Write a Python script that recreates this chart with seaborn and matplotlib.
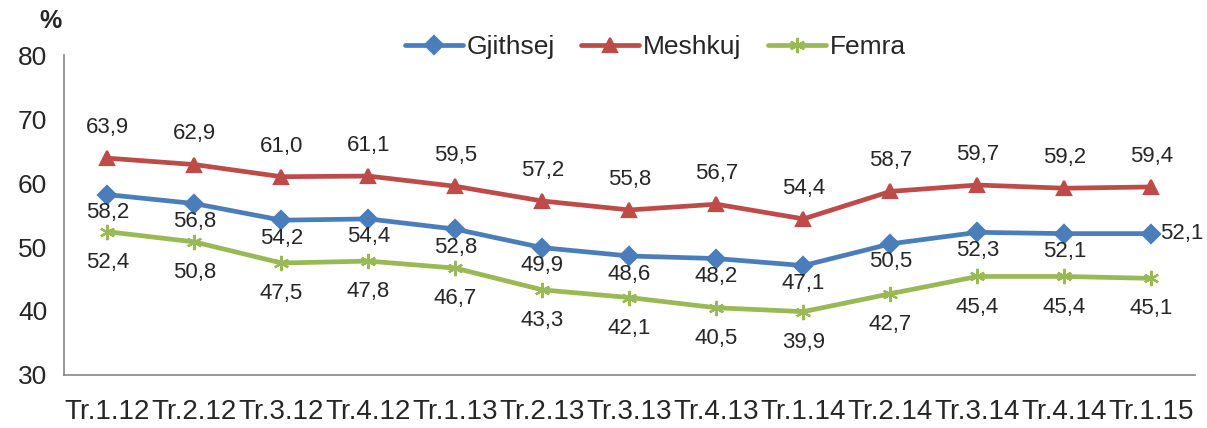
import pandas as pd
import numpy as np
import matplotlib
matplotlib.use("Agg")
import matplotlib.pyplot as plt
import seaborn as sns

# Te dhenat
quarters = ["Tr.1.12", "Tr.2.12", "Tr.3.12", "Tr.4.12", "Tr.1.13", "Tr.2.13", "Tr.3.13",
            "Tr.4.13", "Tr.1.14", "Tr.2.14", "Tr.3.14", "Tr.4.14", "Tr.1.15"]
gjithsej = [58.2, 56.8, 54.2, 54.4, 52.8, 49.9, 48.6, 48.2, 47.1, 50.5, 52.3, 52.1, 52.1]
meshkuj = [63.9, 62.9, 61.0, 61.1, 59.5, 57.2, 55.8, 56.7, 54.4, 58.7, 59.7, 59.2, 59.4]
femra = [52.4, 50.8, 47.5, 47.8, 46.7, 43.3, 42.1, 40.5, 39.9, 42.7, 45.4, 45.4, 45.1]
series_names = ["Gjithsej", "Meshkuj", "Femra"]

colors = {"Gjithsej": "#4A7EBB", "Meshkuj": "#BE4B48", "Femra": "#98B954"}
markers = {"Gjithsej": "D", "Meshkuj": "^", "Femra": (6, 2, 0)}
msizes = {"Gjithsej": 9, "Meshkuj": 10, "Femra": 11}

pos = np.arange(len(quarters))
df = pd.concat([
    pd.DataFrame({"pos": pos, "vlera": vals, "seria": name})
    for name, vals in zip(series_names, [gjithsej, meshkuj, femra])
])

sns.set_style("white")
plt.rcParams["font.family"] = ["Liberation Sans", "DejaVu Sans"]

fig = plt.figure(figsize=(12.07, 4.28), dpi=100)
ax = fig.add_axes([0.053, 0.124, 0.937, 0.747])

for name in series_names:
    sns.lineplot(data=df[df["seria"] == name], x="pos", y="vlera", color=colors[name],
                 marker=markers[name], markersize=msizes[name], markeredgewidth=1.6,
                 markeredgecolor=colors[name], markerfacecolor=colors[name],
                 linewidth=3.4, ax=ax)

# etiketat e vlerave
offsets = {"Gjithsej": -13, "Meshkuj": 22, "Femra": -22}
for name, vals in zip(series_names, [gjithsej, meshkuj, femra]):
    for i, v in enumerate(vals):
        txt = f"{v:.1f}".replace(".", ",")
        if name == "Gjithsej" and i == len(vals) - 1:
            ax.annotate(txt, (i, v), xytext=(6, 0), textcoords="offset points",
                        ha="left", va="center", fontsize=16)
        else:
            ax.annotate(txt, (i, v), xytext=(0, offsets[name]), textcoords="offset points",
                        ha="center", va="center", fontsize=16)

ax.set_xlim(-0.5, len(quarters) - 0.5)
ax.set_ylim(30, 80)
ax.set_yticks(range(30, 81, 10))
ax.set_xticks(pos)
ax.set_xticklabels(quarters, fontsize=20)
ax.set_xticks(np.arange(len(quarters) + 1) - 0.5, minor=True)
ax.tick_params(axis="x", which="major", length=0, pad=17)
ax.tick_params(axis="x", which="minor", length=7, width=1.2, color="#868686", direction="out")
ax.tick_params(axis="y", length=7, width=1.2, color="#868686", direction="out", labelsize=19, pad=5)
ax.set_xlabel("")
ax.set_ylabel("")

for s in ["top", "right"]:
    ax.spines[s].set_visible(False)
for s in ["left", "bottom"]:
    ax.spines[s].set_color("#868686")
    ax.spines[s].set_linewidth(1.2)

handles = [plt.Line2D([], [], color=colors[n], marker=markers[n], linewidth=3.4,
                      markersize=msizes[n], markeredgewidth=1.6, markeredgecolor=colors[n])
           for n in series_names]
ax.legend(handles, series_names, loc="center", bbox_to_anchor=(0.523, 1.025), ncol=3,
          frameon=False, fontsize=19, handlelength=2.2, handletextpad=0.15, columnspacing=1.0)

fig.text(0.042, 0.95, "%", fontsize=18, fontweight="bold", ha="center", va="center")

fig.savefig("out.png", dpi=100)
